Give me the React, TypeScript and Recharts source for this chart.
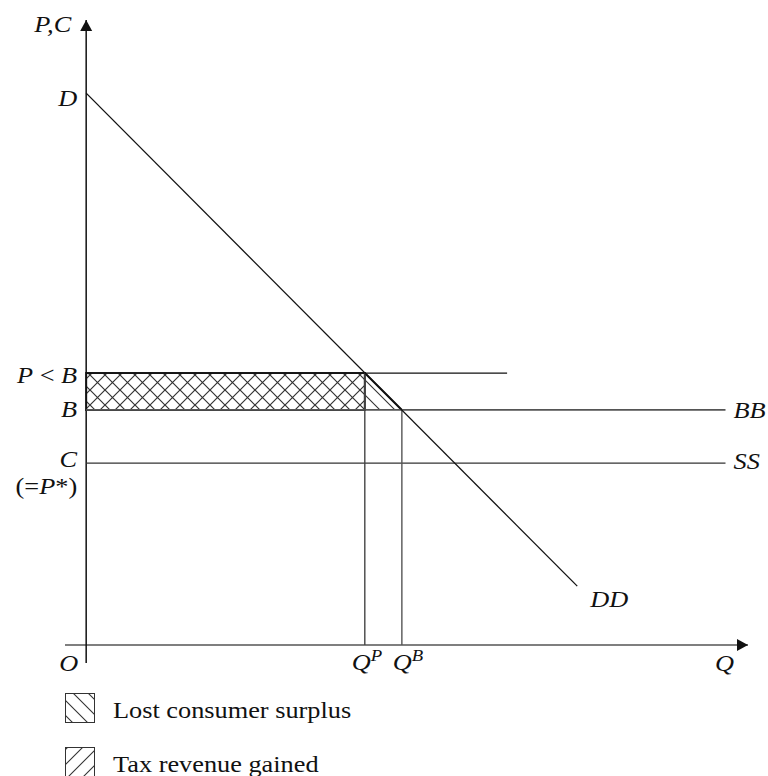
import React from 'react';
import {
    ComposedChart, XAxis, YAxis, Line, Area, ReferenceLine, ReferenceArea, ReferenceDot,
} from 'recharts';

// Price levels on the vertical axis: D, P<B, B, C(=P*)
const priceNames = ['D', 'P<B', 'B', 'C'];
const priceValues = [88.3, 43.5, 37.6, 29.1];

// Quantities on the horizontal axis: Q^P, Q^B
const quantityNames = ['QP', 'QB'];
const quantityValues = [42.1, 47.7];

// Demand curve DD, start and end
const demandQ = [0, 74.2];
const demandP = [88.3, 9.4];

// where the horizontal lines P<B, BB, SS stop
const lineEnds = [63.6, 96.6, 96.6];

const legendNames = ['Lost consumer surplus', 'Tax revenue gained'];
const legendPatterns = ['hatchBack', 'hatchFwd'];

const [D, PB, B, C] = priceValues;
const [QP, QB] = quantityValues;

const demandData = demandQ.map((q, i) => ({ q, p: demandP[i] }));
const lostSurplusData = [{ q: QP, p: PB }, { q: QB, p: B }];

const X_DOMAIN = [-3.2, 100];
const Y_DOMAIN = [-2.9, 100];

const SERIF = "'Liberation Serif', 'DejaVu Serif', serif";
const SX = 1.17; // glyphs in the picture are a little wider than plain Times
const INK = '#111';

type Part = { t: string; i?: boolean; sup?: boolean };

const labels: { q: number; p: number; dx: number; dy: number; anchor: string; parts: Part[] }[] = [
    { q: 0, p: 100, dx: -15, dy: 12, anchor: 'end', parts: [{ t: 'P,C', i: true }] },
    { q: 0, p: D, dx: -9, dy: 13, anchor: 'end', parts: [{ t: 'D', i: true }] },
    { q: 0, p: PB, dx: -9, dy: 10, anchor: 'end', parts: [{ t: 'P', i: true }, { t: ' < ' }, { t: 'B', i: true }] },
    { q: 0, p: B, dx: -9, dy: 7, anchor: 'end', parts: [{ t: 'B', i: true }] },
    { q: 0, p: C, dx: -9, dy: 4, anchor: 'end', parts: [{ t: 'C', i: true }] },
    { q: 0, p: C, dx: -9, dy: 31, anchor: 'end', parts: [{ t: '(=' }, { t: 'P', i: true }, { t: '*)' }] },
    { q: lineEnds[1], p: B, dx: 8, dy: 8, anchor: 'start', parts: [{ t: 'BB', i: true }] },
    { q: lineEnds[2], p: C, dx: 8, dy: 6, anchor: 'start', parts: [{ t: 'SS', i: true }] },
    { q: demandQ[1], p: demandP[1], dx: 13, dy: 21, anchor: 'start', parts: [{ t: 'DD', i: true }] },
    { q: 0, p: 0, dx: -8, dy: 26, anchor: 'end', parts: [{ t: 'O', i: true }] },
    { q: QP, p: 0, dx: -13, dy: 25, anchor: 'start', parts: [{ t: 'Q', i: true }, { t: 'P', i: true, sup: true }] },
    { q: QB, p: 0, dx: -9, dy: 25, anchor: 'start', parts: [{ t: 'Q', i: true }, { t: 'B', i: true, sup: true }] },
    { q: 100, p: 0, dx: -33, dy: 26, anchor: 'start', parts: [{ t: 'Q', i: true }] },
];

function Txt({ x, y, anchor, size = 22.5, parts }: any) {
    return (
        <text
            transform={`translate(${x},${y}) scale(${SX},1)`}
            textAnchor={anchor}
            fontFamily={SERIF}
            fontSize={size}
            fill={INK}
        >
            {parts.map((pt: Part, k: number) => (
                <tspan
                    key={k}
                    fontStyle={pt.i ? 'italic' : 'normal'}
                    fontSize={pt.sup ? 16 : undefined}
                    dy={pt.sup ? -9 : undefined}
                >
                    {pt.t}
                </tspan>
            ))}
        </text>
    );
}

function Hatches() {
    return (
        <defs>
            <pattern id="cross" patternUnits="userSpaceOnUse" width="15" height="15">
                <path d="M0,0 L15,15 M15,0 L0,15" stroke="#333" strokeWidth="1.2" />
            </pattern>
            <pattern id="hatchBack" patternUnits="userSpaceOnUse" width="15" height="15">
                <path d="M0,0 L15,15 M-2,13 L2,17 M13,-2 L17,2" stroke="#333" strokeWidth="1.1" />
            </pattern>
            <pattern id="hatchFwd" patternUnits="userSpaceOnUse" width="15" height="15">
                <path d="M15,0 L0,15 M-2,2 L2,-2 M13,17 L17,13" stroke="#333" strokeWidth="1.1" />
            </pattern>
        </defs>
    );
}

export default function App() {
    return (
        <div style={{ position: 'absolute', left: 0, top: 0, width: 768, height: 776, background: '#fff' }}>
            <ComposedChart
                width={768}
                height={776}
                margin={{ top: 20, right: 20, left: 65, bottom: 113 }}
            >
                <Hatches />
                <XAxis type="number" dataKey="q" domain={X_DOMAIN} allowDataOverflow hide />
                <YAxis type="number" dataKey="p" domain={Y_DOMAIN} allowDataOverflow hide />

                {/* P<B .. B band, cross-hatched */}
                <ReferenceArea
                    x1={0} x2={QP} y1={B} y2={PB}
                    fill="url(#cross)" fillOpacity={1}
                    stroke="#222" strokeWidth={2}
                    ifOverflow="visible"
                />
                {/* lost consumer surplus triangle */}
                <Area
                    data={lostSurplusData}
                    dataKey="p"
                    type="linear"
                    baseValue={B}
                    fill="url(#hatchBack)"
                    fillOpacity={1}
                    stroke={INK}
                    strokeWidth={2}
                    dot={false}
                    activeDot={false}
                    isAnimationActive={false}
                />

                {/* axes */}
                <ReferenceLine segment={[{ x: X_DOMAIN[0], y: 0 }, { x: 100, y: 0 }]} stroke="#555" strokeWidth={1.5} ifOverflow="visible" />
                <ReferenceLine segment={[{ x: 0, y: Y_DOMAIN[0] }, { x: 0, y: 100 }]} stroke={INK} strokeWidth={1.5} ifOverflow="visible" />

                {/* P<B, BB, SS */}
                <ReferenceLine segment={[{ x: 0, y: PB }, { x: lineEnds[0], y: PB }]} stroke={INK} strokeWidth={1.3} ifOverflow="visible" />
                <ReferenceLine segment={[{ x: 0, y: B }, { x: lineEnds[1], y: B }]} stroke="#555" strokeWidth={1.6} ifOverflow="visible" />
                <ReferenceLine segment={[{ x: 0, y: C }, { x: lineEnds[2], y: C }]} stroke="#333" strokeWidth={1.3} ifOverflow="visible" />

                {/* Q^P, Q^B drop lines */}
                <ReferenceLine segment={[{ x: QP, y: PB }, { x: QP, y: 0 }]} stroke="#444" strokeWidth={1.4} ifOverflow="visible" />
                <ReferenceLine segment={[{ x: QB, y: B }, { x: QB, y: 0 }]} stroke="#555" strokeWidth={1.4} ifOverflow="visible" />

                {/* demand DD */}
                <Line
                    data={demandData}
                    dataKey="p"
                    type="linear"
                    stroke={INK}
                    strokeWidth={1.3}
                    dot={false}
                    activeDot={false}
                    isAnimationActive={false}
                />

                {/* arrow heads */}
                <ReferenceDot
                    x={0} y={100} ifOverflow="visible"
                    shape={(p: any) => <polygon points={`${p.cx},${p.cy} ${p.cx - 6},${p.cy + 11} ${p.cx + 6},${p.cy + 11}`} fill={INK} />}
                />
                <ReferenceDot
                    x={100} y={0} ifOverflow="visible"
                    shape={(p: any) => <polygon points={`${p.cx},${p.cy} ${p.cx - 11},${p.cy - 6} ${p.cx - 11},${p.cy + 6}`} fill={INK} />}
                />

                {labels.map((l, k) => (
                    <ReferenceDot
                        key={k}
                        x={l.q}
                        y={l.p}
                        ifOverflow="visible"
                        shape={(p: any) => <Txt x={p.cx + l.dx} y={p.cy + l.dy} anchor={l.anchor} parts={l.parts} />}
                    />
                ))}
            </ComposedChart>

            <svg width={768} height={96} style={{ position: 'absolute', left: 0, top: 680 }}>
                <Hatches />
                {legendNames.map((name, k) => (
                    <g key={name}>
                        <rect
                            x={65.5} y={13.5 + k * 54} width={29} height={29}
                            fill={`url(#${legendPatterns[k]})`}
                            stroke="#333" strokeWidth={1}
                        />
                        <text
                            transform={`translate(113,${38 + k * 54}) scale(${SX},1)`}
                            fontFamily={SERIF}
                            fontSize={22.5}
                            fill={INK}
                        >
                            {name}
                        </text>
                    </g>
                ))}
            </svg>
        </div>
    );
}
